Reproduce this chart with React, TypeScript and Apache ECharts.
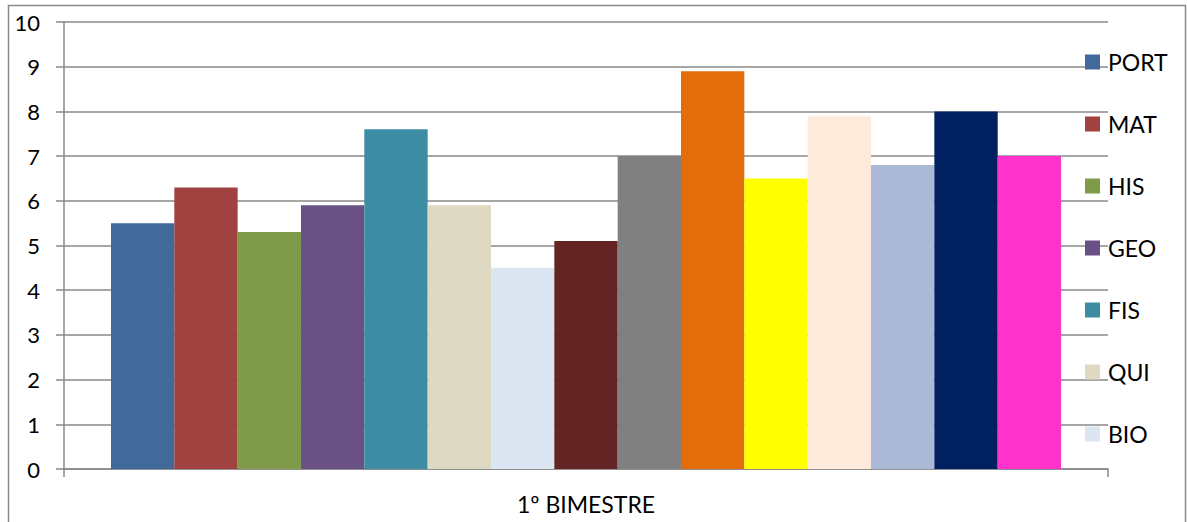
import React, { useEffect, useRef } from "react";
import * as echarts from "echarts";

// Category (single period) and subjects
const categories = ["1º BIMESTRE"];
const subjects = [
  "PORT", "MAT", "HIS", "GEO", "FIS", "QUI", "BIO",
  "SOC", "FIL", "ING", "ESP", "ART", "EDF", "RED", "LIT",
];
// Average grade per subject
const grades = [5.5, 6.3, 5.3, 5.9, 7.6, 5.9, 4.5, 5.1, 7.0, 8.9, 6.5, 7.9, 6.8, 8.0, 7.0];
const colors = [
  "#416A9B", "#A04240", "#7F9A48", "#695185", "#3C8CA3", "#DDD9C3", "#DCE6F2",
  "#632423", "#808080", "#E46C0A", "#FFFF00", "#FDEADA", "#ABB9D6", "#002060", "#FF33CC",
];
// Only the first entries fit in the legend column
const legendNames = subjects.slice(0, 7);
const yTicks = [0, 10, 1];

const FONT = "Lato, 'Open Sans', sans-serif";

export default function App() {
  const ref = useRef<HTMLDivElement>(null);

  useEffect(() => {
    if (!ref.current) return;
    const chart = echarts.init(ref.current, undefined, { renderer: "svg" });
    const gray = "#898989";
    chart.setOption({
      animation: false,
      backgroundColor: "#ffffff",
      textStyle: { fontFamily: FONT },
      grid: { left: 64, right: 79, top: 22, bottom: 53, containLabel: false },
      legend: {
        data: legendNames,
        orient: "vertical",
        left: 1080,
        top: 45,
        itemGap: 38,
        itemWidth: 15,
        itemHeight: 15,
        icon: "rect",
        selectedMode: false,
        textStyle: {
          fontFamily: FONT,
          fontSize: 23,
          color: "#000",
          lineHeight: 24,
          padding: [0, 0, 0, 3],
        },
      },
      xAxis: {
        type: "category",
        data: categories,
        axisLine: { lineStyle: { color: gray, width: 1.5 } },
        axisTick: { show: true, length: 8, lineStyle: { color: gray, width: 1.5 } },
        axisLabel: { fontFamily: FONT, fontSize: 23, color: "#000", margin: 23 },
      },
      yAxis: {
        type: "value",
        min: yTicks[0],
        max: yTicks[1],
        interval: yTicks[2],
        axisLine: { show: true, lineStyle: { color: gray, width: 1.5 } },
        axisTick: { show: true, length: 8, lineStyle: { color: gray, width: 1.5 } },
        axisLabel: { fontFamily: FONT, fontSize: 22, color: "#000", margin: 24 },
        splitLine: { show: true, lineStyle: { color: gray, width: 1.5 } },
      },
      series: subjects.map((name, i) => ({
        name,
        type: "bar",
        data: [grades[i]],
        barGap: "0%",
        barCategoryGap: "9%",
        itemStyle: { color: colors[i] },
      })),
      graphic: [
        {
          type: "rect",
          shape: { x: 8.5, y: 5.5, width: 1177, height: 540 },
          style: { fill: "none", stroke: "#8a8a8a", lineWidth: 1.5 },
          silent: true,
        },
      ],
    });
    return () => chart.dispose();
  }, []);

  return (
    <div
      ref={ref}
      style={{ position: "absolute", left: 0, top: 0, width: 1187, height: 522 }}
    />
  );
}
